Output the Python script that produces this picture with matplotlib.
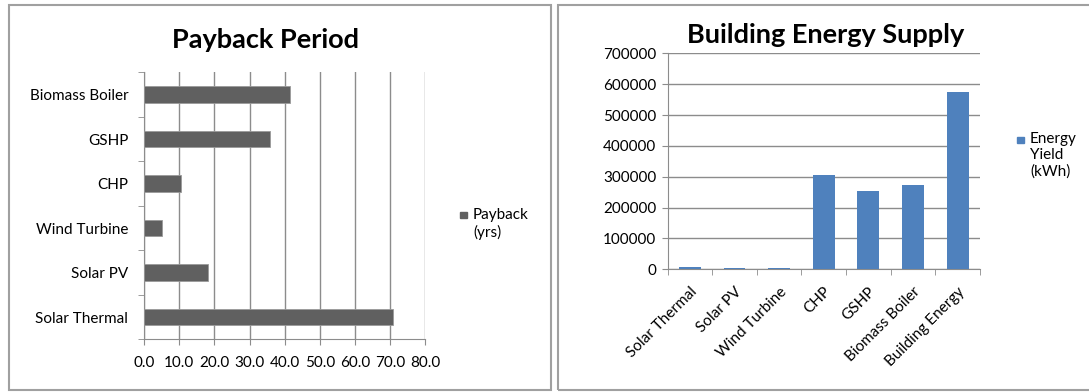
import numpy as np
import matplotlib.pyplot as plt
from matplotlib.patches import Rectangle

plt.rcParams['font.family'] = ['Lato', 'DejaVu Sans']

# payback period per technology (years)
payback_techs = ["Solar Thermal", "Solar PV", "Wind Turbine", "CHP", "GSHP", "Biomass Boiler"]
payback_yrs = [70.8, 18.2, 5.1, 10.4, 35.9, 41.6]
payback_ticks = [0, 10, 20, 30, 40, 50, 60, 70, 80]

# annual energy yield per technology (kWh)
supply_techs = ["Solar Thermal", "Solar PV", "Wind Turbine", "CHP", "GSHP",
                "Biomass Boiler", "Building Energy"]
supply_kwh = [6500, 3500, 5500, 305000, 253000, 274000, 573500]
supply_ticks = [0, 100000, 200000, 300000, 400000, 500000, 600000, 700000]

W, H = 1089, 392
grid_col = "#8c8c8c"
border_col = "#a0a0a0"
gray_bar = "#606060"
blue_bar = "#4f81bd"

fig = plt.figure(figsize=(W/100, H/100), dpi=100)

def px(x0, y0, x1, y1):
    # pixel box (top-left origin) -> figure fraction rect
    return [x0/W, 1-y1/H, (x1-x0)/W, (y1-y0)/H]

# panel frames
for x0, x1 in [(9, 551), (557.5, 1100)]:
    r = px(x0, 5, x1, 390)
    fig.patches.append(Rectangle((r[0], r[1]), r[2], r[3], transform=fig.transFigure,
                                 fill=False, ec=border_col, lw=1.5))

# ---- payback period (horizontal bars)
ax1 = fig.add_axes(px(144.3, 72.3, 425, 339.3))
y = np.arange(len(payback_techs))
ax1.barh(y, payback_yrs, height=0.375, color=gray_bar, edgecolor="#9a9a9a", lw=0.6, zorder=3)
ax1.set_xlim(0, 80)
ax1.set_ylim(-0.5, len(payback_techs)-0.5)
ax1.set_xticks(payback_ticks)
ax1.set_xticklabels(["%.1f" % v for v in payback_ticks], fontsize=11)
ax1.set_yticks(y)
ax1.set_yticklabels(payback_techs, fontsize=11)
ax1.set_yticks(np.arange(-0.5, len(payback_techs)), minor=True)
ax1.tick_params(axis="y", which="major", length=0, pad=11.5)
ax1.tick_params(axis="y", which="minor", length=4, color=grid_col, direction="out")
ax1.tick_params(axis="x", length=4, color=grid_col, pad=8)
ax1.xaxis.grid(True, color=grid_col, lw=1)
ax1.set_axisbelow(True)
for s in ["top", "right"]:
    ax1.spines[s].set_visible(False)
for s in ["left", "bottom"]:
    ax1.spines[s].set_color(grid_col)

fig.text(265/W, 1-40/H, "Payback Period", ha="center", va="center",
         fontsize=19.5, fontweight="bold")

r = px(460, 211.7, 467, 218.3)
fig.patches.append(Rectangle((r[0], r[1]), r[2], r[3], transform=fig.transFigure,
                             color=gray_bar))
fig.text(473/W, 1-215/H, "Payback", ha="left", va="center", fontsize=11)
fig.text(473/W, 1-232/H, "(yrs)", ha="left", va="center", fontsize=11)

# ---- building energy supply (vertical bars)
ax2 = fig.add_axes(px(667.5, 53.3, 980, 269.3))
x = np.arange(len(supply_techs))
ax2.bar(x, supply_kwh, width=0.49, color=blue_bar, lw=0, zorder=3)
ax2.set_xlim(-0.5, len(supply_techs)-0.5)
ax2.set_ylim(0, 700000)
ax2.set_yticks(supply_ticks)
ax2.set_yticklabels([str(v) for v in supply_ticks], fontsize=11)
ax2.set_xticks(x)
ax2.set_xticklabels(supply_techs, fontsize=11, rotation=45, ha="right",
                    rotation_mode="anchor")
ax2.set_xticks(np.arange(-0.5, len(supply_techs)), minor=True)
ax2.tick_params(axis="x", which="major", length=0, pad=11)
ax2.tick_params(axis="x", which="minor", length=4, color=grid_col, direction="out")
ax2.tick_params(axis="y", length=4, color=grid_col, pad=4)
ax2.yaxis.grid(True, color=grid_col, lw=1)
ax2.set_axisbelow(True)
for s in ["top", "right"]:
    ax2.spines[s].set_visible(False)
for s in ["left", "bottom"]:
    ax2.spines[s].set_color(grid_col)

fig.text(826/W, 1-35/H, "Building Energy Supply", ha="center", va="center",
         fontsize=19.5, fontweight="bold")

r = px(1016.7, 136.7, 1024.3, 143.3)
fig.patches.append(Rectangle((r[0], r[1]), r[2], r[3], transform=fig.transFigure,
                             color=blue_bar))
for i, line in enumerate(["Energy", "Yield", "(kWh)"]):
    fig.text(1030/W, 1-(139+16.5*i)/H, line, ha="left", va="center", fontsize=11)

fig.savefig("out.png", dpi=100)
